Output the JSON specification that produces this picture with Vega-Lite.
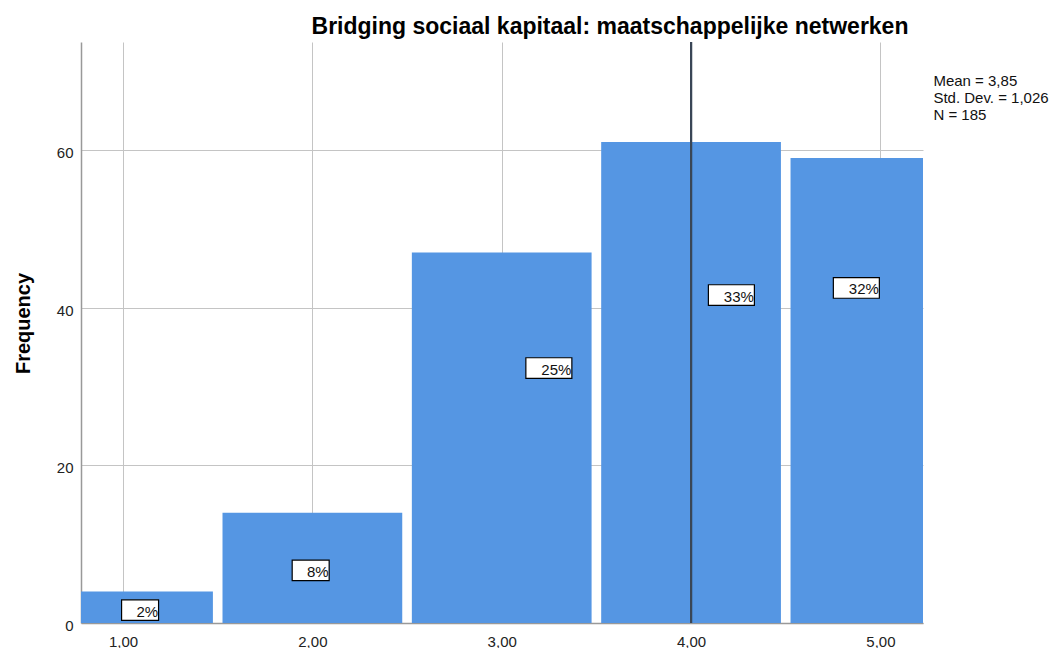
{
  "$schema": "https://vega.github.io/schema/vega-lite/v6.json",
  "width": 842,
  "height": 581,
  "autosize": {"type": "none"},
  "padding": {"left": 81, "top": 42, "right": 136, "bottom": 25},
  "background": "white",
  "config": {
    "view": {"stroke": null},
    "font": "Liberation Sans"
  },
  "title": {
    "text": "Bridging sociaal kapitaal: maatschappelijke netwerken",
    "font": "Liberation Sans",
    "fontSize": 23,
    "fontWeight": "bold",
    "color": "#000000",
    "anchor": "middle",
    "frame": "group",
    "dx": 108,
    "dy": 22,
    "baseline": "alphabetic",
    "offset": 6
  },
  "data": {
    "values": [
      {"start": 0.5, "end": 1.5, "freq": 4, "pct": "2%", "lx": 1.09, "ly": 1.63},
      {"start": 1.5, "end": 2.5, "freq": 14, "pct": "8%", "lx": 1.991, "ly": 6.67},
      {"start": 2.5, "end": 3.5, "freq": 47, "pct": "25%", "lx": 3.249, "ly": 32.34},
      {"start": 3.5, "end": 4.5, "freq": 61, "pct": "33%", "lx": 4.213, "ly": 41.6},
      {"start": 4.5, "end": 5.5, "freq": 59, "pct": "32%", "lx": 4.873, "ly": 42.5}
    ]
  },
  "layer": [
    {
      "mark": {"type": "rect", "color": "#5596e3", "clip": true, "xOffset": 4.8, "x2Offset": -4.8},
      "encoding": {
        "x": {
          "field": "start",
          "type": "quantitative",
          "scale": {"domain": [0.778, 5.225], "nice": false, "zero": false},
          "axis": {
            "title": null,
            "values": [1, 2, 3, 4, 5],
            "labelExpr": "replace(format(datum.value, '.2f'), '.', ',')",
            "labelFont": "Liberation Sans",
            "labelFontSize": 15,
            "labelColor": "#222222",
            "labelBaseline": "alphabetic",
            "labelPadding": 23,
            "ticks": false,
            "tickSize": 0,
            "domainColor": "#999999",
            "domainWidth": 1.5,
            "grid": true,
            "gridColor": "#c4c4c4",
            "gridWidth": 1
          }
        },
        "x2": {"field": "end"},
        "y": {
          "field": "freq",
          "type": "quantitative",
          "scale": {"domain": [0, 73.7], "nice": false},
          "axis": {
            "title": "Frequency",
            "titleFont": "Liberation Sans",
            "titleFontSize": 20,
            "titleFontWeight": "bold",
            "titleColor": "#000000",
            "titleAngle": -90,
            "titleAlign": "center",
            "titleBaseline": "alphabetic",
            "titleX": -52,
            "titleY": 281,
            "values": [0, 20, 40, 60],
            "labelFont": "Liberation Sans",
            "labelFontSize": 15,
            "labelColor": "#222222",
            "labelPadding": 8,
            "labelOffset": 2.5,
            "ticks": false,
            "tickSize": 0,
            "domainColor": "#999999",
            "domainWidth": 1.5,
            "grid": true,
            "gridColor": "#c4c4c4",
            "gridWidth": 1
          }
        },
        "y2": {"datum": 0}
      }
    },
    {
      "mark": {"type": "rule", "color": "#3a4656", "strokeWidth": 2},
      "encoding": {"x": {"datum": 4, "type": "quantitative"}}
    },
    {
      "transform": [{"filter": "length(datum.pct) < 3"}],
      "mark": {"type": "point", "filled": true, "fill": "white", "stroke": "black", "strokeWidth": 1.2, "opacity": 1, "size": 2116, "shape": "M-0.804,-0.448L0.804,-0.448L0.804,0.448L-0.804,0.448Z"},
      "encoding": {
        "x": {"field": "lx", "type": "quantitative"},
        "y": {"field": "ly", "type": "quantitative"}
      }
    },
    {
      "transform": [{"filter": "length(datum.pct) >= 3"}],
      "mark": {"type": "point", "filled": true, "fill": "white", "stroke": "black", "strokeWidth": 1.2, "opacity": 1, "size": 2116, "shape": "M-1,-0.448L1,-0.448L1,0.448L-1,0.448Z"},
      "encoding": {
        "x": {"field": "lx", "type": "quantitative"},
        "y": {"field": "ly", "type": "quantitative"}
      }
    },
    {
      "transform": [{"filter": "length(datum.pct) < 3"}],
      "mark": {"type": "text", "font": "Liberation Sans", "fontSize": 15, "color": "#111111", "align": "right", "baseline": "alphabetic", "dx": 18, "dy": 6.5},
      "encoding": {
        "x": {"field": "lx", "type": "quantitative"},
        "y": {"field": "ly", "type": "quantitative"},
        "text": {"field": "pct"}
      }
    },
    {
      "transform": [{"filter": "length(datum.pct) >= 3"}],
      "mark": {"type": "text", "font": "Liberation Sans", "fontSize": 15, "color": "#111111", "align": "right", "baseline": "alphabetic", "dx": 22.5, "dy": 6.5},
      "encoding": {
        "x": {"field": "lx", "type": "quantitative"},
        "y": {"field": "ly", "type": "quantitative"},
        "text": {"field": "pct"}
      }
    },
    {
      "data": {"values": [{"sx": 5.28, "sy": 68.1, "stats": ["Mean = 3,85", "Std. Dev. = 1,026", "N = 185"]}]},
      "mark": {"type": "text", "font": "Liberation Sans", "fontSize": 15, "color": "#111111", "align": "left", "baseline": "alphabetic", "lineHeight": 17, "clip": false},
      "encoding": {
        "x": {"field": "sx", "type": "quantitative"},
        "y": {"field": "sy", "type": "quantitative"},
        "text": {"field": "stats"}
      }
    }
  ]
}
